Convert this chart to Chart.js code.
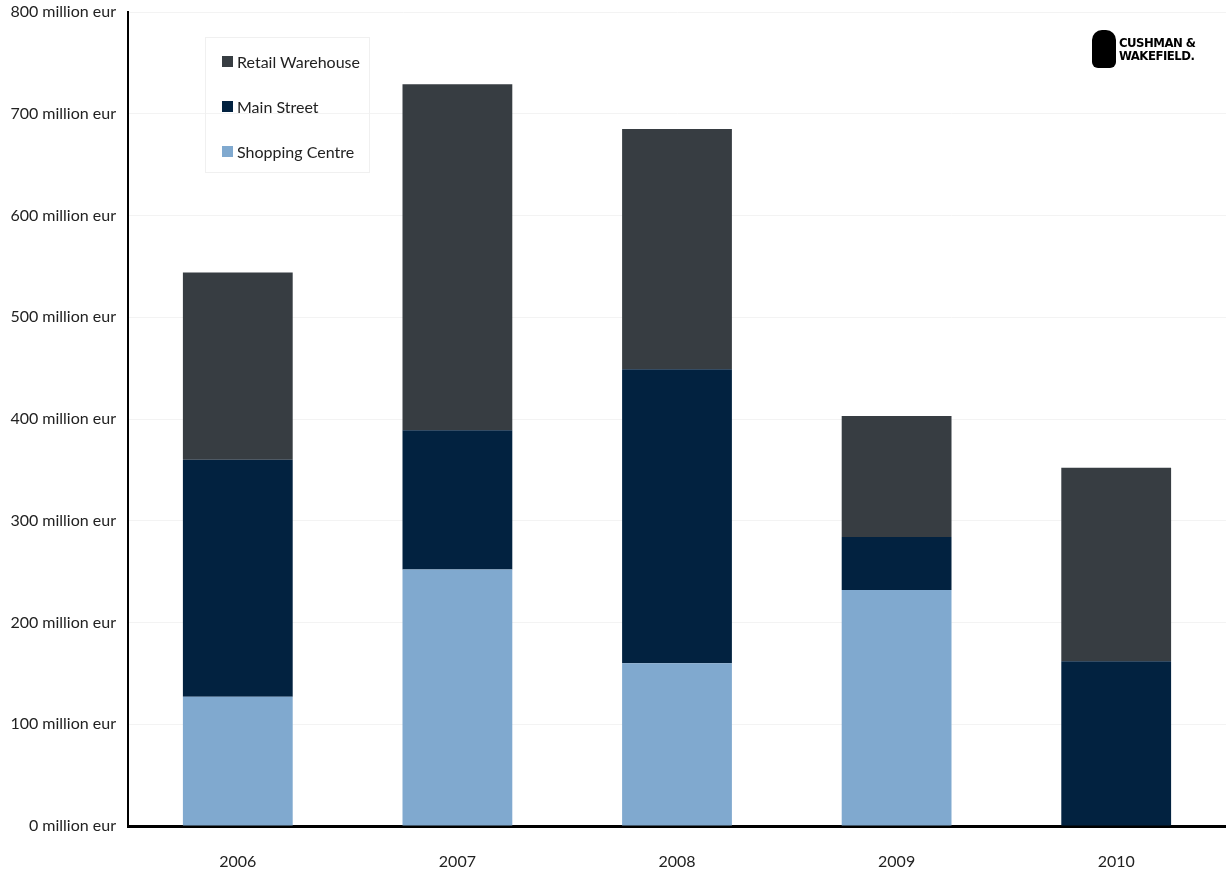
<!DOCTYPE html>
<html>
<head>
<meta charset="utf-8">
<script src="https://cdn.jsdelivr.net/npm/chart.js@4"></script>
<style>
  body { margin: 0; background: #fff; font-family: Lato, "Open Sans", sans-serif; }
  #wrap { position: relative; width: 1226px; height: 876px; }
  #legend {
    position: absolute; left: 205px; top: 37px; width: 165px; height: 136px;
    border: 1px solid #f0f0f0; box-sizing: border-box; padding: 1px 0 0 16px;
  }
  .item { display: flex; align-items: center; height: 45px; font-size: 16px; color: #222; }
  .sw { width: 11px; height: 11px; margin-right: 4px; }
  #logo {
    position: absolute; left: 1092px; top: 30px; font-family: "DejaVu Sans Condensed", "DejaVu Sans", sans-serif;
    font-weight: bold; font-size: 13px; line-height: 13px; color: #000; display: flex; align-items: center;
    letter-spacing: -0.5px;
  }
  #logo .icon { width: 24px; height: 38px; background: #000; border-radius: 10px 10px 6px 6px; margin-right: 3px; }
</style>
</head>
<body>
<div id="wrap">
  <canvas id="chart" width="1226" height="876"></canvas>
  <div id="legend"></div>
  <div id="logo"><div class="icon"></div><div>CUSHMAN &amp;<br>WAKEFIELD.</div></div>
</div>
<script>
const years = ['2006', '2007', '2008', '2009', '2010'];
const shoppingCentre = [127, 252, 160, 232, 0];
const mainStreet = [233, 137, 289, 52, 162];
const retailWarehouse = [184, 340, 236, 119, 190];
const yTicks = [0, 100, 200, 300, 400, 500, 600, 700, 800];

const series = [
  { label: 'Shopping Centre', data: shoppingCentre, color: '#80a9cf' },
  { label: 'Main Street', data: mainStreet, color: '#022240' },
  { label: 'Retail Warehouse', data: retailWarehouse, color: '#373d42' },
];

// legend, top item is the top of the stack
const legendEl = document.getElementById('legend');
series.slice().reverse().forEach(s => {
  const row = document.createElement('div');
  row.className = 'item';
  row.innerHTML = `<span class="sw" style="background:${s.color}"></span>${s.label}`;
  legendEl.appendChild(row);
});

new Chart(document.getElementById('chart'), {
  type: 'bar',
  data: {
    labels: years,
    datasets: series.map(s => ({
      label: s.label,
      data: s.data,
      backgroundColor: s.color,
      borderWidth: 0,
      barPercentage: 0.5,
      categoryPercentage: 1,
    })),
  },
  options: {
    responsive: false,
    animation: false,
    layout: { padding: { top: 12, right: 0, left: 0, bottom: 0 } },
    plugins: { legend: { display: false }, tooltip: { enabled: false } },
    scales: {
      x: {
        stacked: true,
        grid: { display: false },
        border: { color: '#000', width: 3 },
        ticks: { color: '#222', font: { family: 'Lato', size: 16 }, padding: 18 },
        afterFit: scale => { scale.height = 50; },
      },
      y: {
        stacked: true,
        min: 0,
        max: 800,
        afterBuildTicks: scale => { scale.ticks = yTicks.map(v => ({ value: v })); },
        grid: { color: '#f3f3f3', drawTicks: false },
        border: { color: '#000', width: 2 },
        ticks: {
          color: '#222',
          font: { family: 'Lato', size: 16 },
          padding: 12,
          callback: v => v + ' million eur',
        },
        afterFit: scale => {
          scale.width = 128;
          scale.paddingTop = 0;
          scale.paddingBottom = 0;
        },
      },
    },
  },
});
</script>
</body>
</html>
